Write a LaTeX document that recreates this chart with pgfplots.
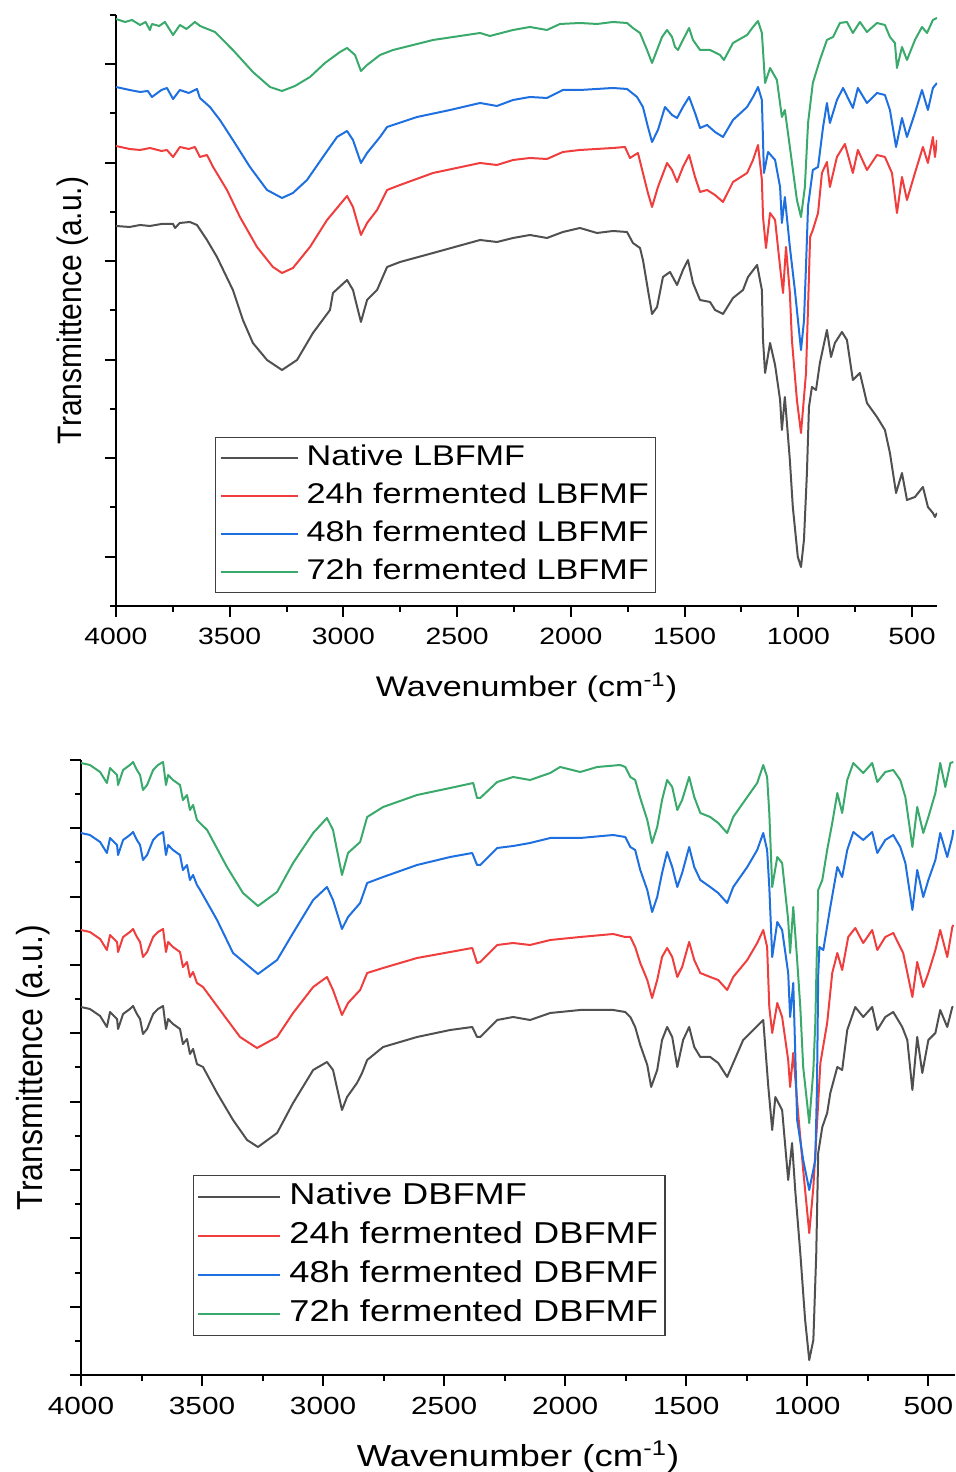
\documentclass[border=0pt]{standalone}
\usepackage{fontspec}
\setmainfont[FakeStretch=1.2]{Liberation Sans}
\newfontfamily\plainsans{Liberation Sans}
\usepackage{pgfplots}
\pgfplotsset{compat=1.18}
\definecolor{cgray}{HTML}{505050}
\definecolor{cred}{HTML}{F03E3E}
\definecolor{cblue}{HTML}{1E6FE0}
\definecolor{cgreen}{HTML}{3AAA6C}
\pgfplotsset{ftir/.style={
  scale only axis, x dir=reverse, xmin=390, xmax=4000, ymin=0,
  axis x line*=bottom, axis y line*=left,
  axis line style={line width=1pt, -},
  xtick={500,1000,...,4000}, minor xtick={750,1250,...,3750},
  tick align=outside, major tick length=5.5pt, minor tick length=3pt,
  every tick/.style={line width=1pt, black},
  yticklabels={},
  /pgf/number format/assume math mode=true,
  /pgf/number format/1000 sep={},
  xticklabel style={anchor=base, yshift=-14pt},
  xlabel={Wavenumber (cm\textsuperscript{-1})},
  every axis x label/.style={at={(axis description cs:0.5,0)}, anchor=base, yshift=-45.5pt},
  every axis y label/.style={at={(axis description cs:0,0.5)}, anchor=base, rotate=90},
  every axis plot/.append style={line width=1pt, line join=round},
  legend cell align=left,
  legend style={draw=black!75, line width=0.6pt, anchor=north west, inner sep=2pt, column sep=2.5pt},
}}
\begin{document}
\begin{tikzpicture}
\useasboundingbox (0,0) rectangle (478pt,736pt);
% ---------------- top panel ----------------
\begin{axis}[ftir, at={(58pt,433pt)}, anchor=south west, width=410.5pt, height=295.5pt, ymax=591,
  ytick={49.25,147.75,246.25,344.75,443.25,541.75}, minor ytick={0,98.5,197,295.5,394,492.5,591},
  ticklabel style={font=\fontsize{11.8}{13}\selectfont},
  xlabel style={font=\fontsize{14.2}{16}\selectfont},
  ylabel={\plainsans\scalebox{1}[1.13]{Transmittence (a.u.)}},
  ylabel style={font=\fontsize{15}{17}\selectfont, yshift=17pt},
  legend style={at={(axis description cs:0.1206,0.286)}, font=\fontsize{14.25}{16}\selectfont, row sep=2.5pt, nodes={inner sep=1.5pt, text height=10.5pt, text depth=3pt}},
  legend image code/.code={\draw[#1,line width=1pt] (0pt,0pt) -- (38.5pt,0pt);}]
\addplot[cgray] table {
4000 380
3940 379
3894 381
3851 380
3800 382
3749 382
3740 378
3720 383
3675 384
3644 381
3600 366
3556 349
3486 316
3442 286
3398 263
3336 246
3270 236
3204 246
3134 273
3059 296
3046 313
2984 326
2958 316
2923 284
2896 306
2852 316
2808 339
2751 344
2606 353
2399 366
2325 364
2254 368
2180 371
2105 368
2035 374
1960 378
1885 373
1815 375
1753 374
1727 363
1696 358
1683 346
1661 316
1643 292
1621 299
1595 329
1564 334
1533 321
1507 336
1485 346
1463 323
1432 306
1388 304
1366 296
1331 292
1287 308
1243 316
1221 329
1181 341
1160 316
1155 266
1146 233
1124 263
1102 241
1080 206
1072 176
1059 209
1037 146
1024 99
1002 49
988 39
975 66
962 133
953 199
940 219
922 216
905 243
874 276
856 249
839 263
808 274
786 266
760 226
729 233
698 203
654 189
619 176
597 153
570 113
544 133
522 106
487 109
452 119
430 99
408 93
399 89
390 93
};
\addplot[cred] table {
4000 460
3940 457
3894 456
3850 458
3800 455
3776 456
3749 449
3719 459
3680 457
3653 459
3631 449
3600 451
3573 439
3512 416
3455 389
3380 359
3310 339
3270 333
3222 338
3147 359
3072 386
2984 410
2958 399
2923 371
2896 383
2852 396
2808 416
2751 421
2606 433
2399 443
2325 441
2254 446
2180 448
2105 447
2035 454
1960 456
1815 458
1762 459
1740 448
1705 453
1683 433
1661 413
1643 399
1617 419
1577 443
1555 436
1533 424
1507 439
1480 451
1454 429
1432 414
1401 416
1366 411
1331 404
1287 424
1225 433
1199 446
1177 461
1160 426
1155 389
1142 358
1124 393
1102 386
1080 339
1067 313
1054 359
1037 313
1028 266
1006 206
988 173
966 233
957 299
948 369
936 376
913 393
896 433
874 444
861 419
830 449
795 462
760 433
738 456
698 436
654 451
619 449
588 433
566 393
544 429
522 406
487 433
452 459
430 443
408 469
399 449
390 466
};
\addplot[cblue] table {
4000 519
3940 516
3894 514
3860 515
3842 509
3800 516
3776 518
3749 507
3719 516
3680 513
3644 517
3631 508
3587 499
3543 486
3486 466
3411 439
3336 416
3270 408
3222 413
3160 426
3090 449
3028 469
2984 475
2958 466
2923 443
2896 453
2839 469
2808 479
2676 489
2531 496
2399 503
2325 500
2254 506
2180 509
2105 508
2035 516
1960 516
1815 518
1753 517
1709 509
1683 499
1661 479
1643 464
1617 476
1586 499
1555 491
1533 488
1507 499
1480 509
1454 493
1432 478
1401 481
1366 474
1331 469
1287 486
1225 499
1199 509
1177 519
1160 506
1151 433
1133 454
1102 446
1080 419
1072 383
1059 409
1037 359
1015 316
988 256
975 285
966 340
957 400
936 436
913 439
891 479
874 503
861 483
830 506
803 518
760 498
738 518
698 503
654 513
619 511
597 496
570 459
544 488
522 469
487 493
456 516
430 496
408 518
390 523
};
\addplot[cgreen] table {
4000 587
3960 584
3930 586
3894 581
3870 584
3851 576
3842 582
3810 580
3785 584
3749 571
3719 581
3690 577
3653 584
3630 580
3609 578
3565 574
3486 556
3398 534
3323 519
3270 515
3213 520
3147 529
3081 543
3015 554
2984 558
2949 551
2923 535
2896 541
2839 551
2782 556
2606 566
2399 573
2356 570
2254 576
2180 579
2105 576
2048 582
1960 583
1885 582
1815 584
1753 583
1727 578
1696 573
1665 556
1643 543
1621 556
1599 569
1577 576
1555 569
1542 559
1529 556
1507 566
1480 578
1463 566
1432 556
1388 556
1344 551
1327 546
1287 563
1225 571
1199 579
1177 585
1160 573
1146 523
1124 538
1094 526
1072 489
1059 496
1037 459
1006 406
988 389
971 419
957 483
936 523
905 546
874 566
847 569
817 583
786 584
760 573
729 584
698 574
654 583
619 581
597 569
575 563
566 538
544 559
522 546
487 566
456 579
434 573
408 586
390 588
};
\legend{Native LBFMF, 24h fermented LBFMF, 48h fermented LBFMF, 72h fermented LBFMF}
\end{axis}
% ---------------- bottom panel ----------------
\begin{axis}[ftir, at={(40.5pt,48.5pt)}, anchor=south west, width=437pt, height=307.5pt, ymax=615,
  ytick={0,68.33,136.67,205,273.33,341.67,410,478.33,546.67,615},
  minor ytick={34.17,102.5,170.83,239.17,307.5,375.83,444.17,512.5,580.83},
  ticklabel style={font=\fontsize{12.4}{14}\selectfont},
  xlabel style={font=\fontsize{15.2}{17}\selectfont},
  ylabel={\plainsans\scalebox{1}[1.13]{Transmittence (a.u.)}},
  ylabel style={font=\fontsize{16}{18}\selectfont, yshift=19pt},
  legend style={at={(axis description cs:0.128,0.325)}, font=\fontsize{15.1}{17}\selectfont, row sep=2.3pt, nodes={inner sep=1.5pt, text height=11pt, text depth=3.2pt}},
  legend image code/.code={\draw[#1,line width=1pt] (0pt,0pt) -- (41pt,0pt);}]
\addplot[cgray] table {
4000 368
3963 366
3921 359
3893 348
3880 363
3851 356
3847 346
3826 361
3798 366
3785 369
3769 361
3756 356
3744 341
3727 346
3702 361
3682 366
3661 369
3649 346
3640 356
3620 351
3591 346
3579 331
3562 336
3550 321
3537 326
3521 311
3496 308
3438 282
3372 255
3314 235
3269 228
3190 242
3124 272
3041 305
2984 313
2959 305
2922 265
2901 278
2860 292
2839 302
2818 315
2752 328
2612 338
2475 345
2384 348
2364 338
2351 338
2281 355
2215 358
2145 355
2062 362
1938 365
1802 365
1752 363
1731 358
1711 348
1690 330
1661 310
1645 288
1620 305
1600 335
1579 348
1558 338
1537 308
1513 335
1488 348
1467 328
1442 318
1401 318
1368 312
1331 298
1306 312
1265 335
1223 345
1182 355
1161 288
1145 245
1132 278
1104 265
1079 195
1063 232
1050 185
1029 122
1009 55
992 15
975 35
963 122
955 222
938 248
918 262
905 282
876 308
856 305
835 345
802 368
769 358
732 368
711 345
678 358
645 363
608 348
587 335
566 285
546 338
525 302
500 335
471 342
451 365
422 348
401 368
397 368
};
\addplot[cred] table {
4000 445
3963 443
3921 436
3893 425
3880 440
3851 433
3847 423
3826 438
3798 443
3785 446
3769 438
3756 433
3744 418
3727 423
3702 438
3682 443
3661 446
3649 423
3640 433
3620 428
3591 423
3579 408
3562 413
3550 398
3537 403
3521 392
3496 388
3426 365
3343 338
3273 327
3190 338
3124 362
3041 388
2984 398
2959 385
2922 360
2897 372
2847 385
2818 402
2752 407
2612 417
2475 423
2384 427
2364 412
2351 413
2281 430
2215 432
2145 430
2062 435
1938 438
1802 441
1752 438
1731 438
1711 428
1690 412
1661 395
1641 377
1620 395
1600 418
1579 427
1558 418
1537 398
1517 408
1488 433
1467 415
1442 402
1401 398
1368 395
1331 385
1306 398
1248 415
1207 432
1182 445
1166 428
1157 368
1145 342
1124 372
1104 358
1079 315
1071 288
1058 322
1038 262
1017 205
992 142
975 188
959 255
946 312
918 352
897 402
876 422
856 405
831 438
802 447
769 432
732 445
711 425
678 438
645 442
604 422
566 378
546 413
521 388
500 402
471 425
451 445
422 418
401 448
397 450
};
\addplot[cblue] table {
4000 542
3963 540
3921 533
3893 522
3880 537
3851 530
3847 520
3826 535
3798 540
3785 543
3769 535
3756 530
3744 515
3727 520
3702 535
3682 540
3661 543
3649 520
3640 530
3620 525
3591 520
3579 505
3562 510
3550 495
3537 500
3521 490
3508 485
3438 455
3372 422
3269 401
3190 415
3124 442
3041 475
2984 488
2959 475
2922 446
2897 458
2847 472
2818 492
2752 498
2612 510
2475 518
2384 522
2364 510
2351 510
2281 527
2215 529
2145 532
2062 537
1938 537
1802 540
1752 538
1731 528
1711 525
1690 505
1661 485
1641 463
1620 478
1600 502
1579 523
1558 508
1537 488
1517 502
1488 528
1467 508
1442 495
1401 488
1368 482
1331 472
1306 488
1248 508
1207 525
1182 542
1166 525
1157 488
1145 418
1124 453
1104 445
1079 402
1071 358
1058 392
1042 255
1017 215
992 185
967 215
960 288
955 400
950 428
934 425
905 468
876 508
856 498
835 525
810 543
769 535
732 543
711 522
678 535
645 540
616 528
595 512
566 465
546 505
521 478
500 495
471 515
451 542
422 518
401 538
397 545
};
\addplot[cgreen] table {
4000 612
3963 610
3921 603
3893 592
3880 607
3851 600
3847 590
3826 605
3798 610
3785 613
3769 605
3756 600
3744 585
3727 590
3702 605
3682 610
3661 613
3649 590
3640 600
3620 595
3591 590
3579 575
3562 580
3550 565
3537 570
3521 555
3479 545
3397 508
3331 482
3269 469
3190 483
3124 512
3041 542
2984 557
2959 545
2922 500
2897 522
2847 533
2818 558
2752 568
2612 580
2475 587
2380 592
2364 577
2351 577
2281 593
2215 598
2145 595
2062 602
2021 608
1938 603
1868 608
1773 610
1752 608
1731 598
1711 595
1690 577
1661 555
1641 532
1620 548
1600 575
1579 595
1558 588
1537 565
1517 575
1488 598
1467 578
1442 562
1401 558
1368 552
1331 542
1306 558
1248 578
1207 592
1182 610
1166 598
1157 562
1145 488
1124 518
1104 512
1079 455
1071 422
1058 468
1042 415
1029 368
1017 308
992 252
975 305
967 352
955 485
938 495
918 525
897 552
876 582
856 562
835 595
810 612
769 602
732 612
711 593
678 603
645 605
616 595
595 578
566 528
546 568
521 542
500 558
471 582
451 612
430 588
409 612
397 613
};
\legend{Native DBFMF, 24h fermented DBFMF, 48h fermented DBFMF, 72h fermented DBFMF}
\end{axis}
\end{tikzpicture}
\end{document}
